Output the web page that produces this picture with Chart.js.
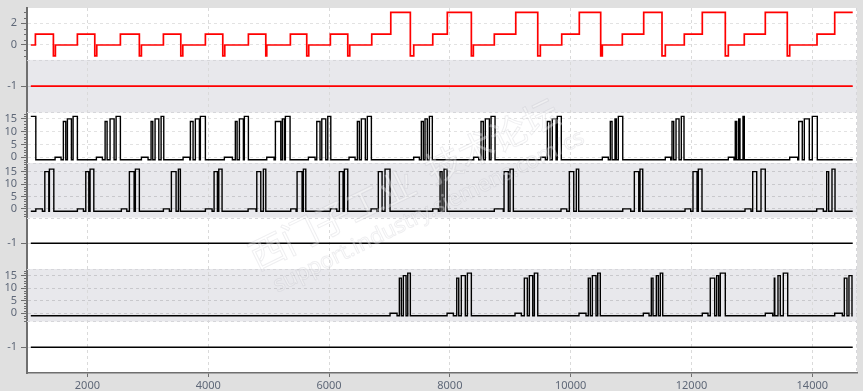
<!DOCTYPE html>
<html><head><meta charset="utf-8">
<script src="https://cdn.jsdelivr.net/npm/chart.js@4/dist/chart.umd.min.js"></script>
<style>html,body{margin:0;padding:0;background:#e0e0e0;overflow:hidden}</style>
</head><body>
<canvas id="c" width="863" height="391" style="width:863px;height:391px;display:block"></canvas>
<script>
// ---------- DATA ----------
const xTicks = [2000, 4000, 6000, 8000, 10000, 12000, 14000];
const ticksLevel = [0, 2];
const ticksCount = [0, 5, 10, 15];
const ticksFlat = [-1];

// [time, value] change points of each trace
const trace1 = [[1063,0],[1139,1],[1437,-1],[1470,0],[1834,1],[2122,-1],[2155,0],[2546,1],[2860,-1],[2894,0],[3258,1],[3546,-1],[3579,0],[3953,1],[4241,-1],[4274,0],[4665,1],[4953,-1],[4969,0],[5360,1],[5631,-1],[5664,0],[6022,1],[6310,-1],[6343,0],[6707,1],[7022,3],[7346,-1],[7402,0],[7717,1],[7958,3],[8356,-1],[8389,0],[8736,1],[9091,3],[9455,-1],[9498,0],[9852,1],[10143,3],[10497,-1],[10524,0],[10855,1],[11209,3],[11512,-1],[11567,0],[11881,1],[12179,3],[12560,-1],[12610,0],[12874,1],[13222,3],[13586,-1],[13626,0],[14078,1],[14371,3],[14669,3]];
const trace2 = [[1063,-1],[14669,-1]];
const trace3 = [[1063,16],[1146,-1],
 [1465,0],[1564,-1],[1602,14],[1642,-1],[1669,15],[1735,-1],[1763,16],[1834,-1],
 [2149,0],[2248,-1],[2293,14],[2326,-1],[2375,15],[2442,-1],[2475,16],[2546,-1],
 [2894,0],[3004,-1],[3054,14],[3082,-1],[3120,15],[3182,-1],[3220,16],[3264,-1],
 [3584,0],[3695,-1],[3705,14],[3749,-1],[3787,15],[3854,-1],[3870,16],[3953,-1],
 [4267,0],[4400,-1],[4449,14],[4478,-1],[4516,15],[4582,-1],[4598,16],[4665,-1],
 [4969,0],[5090,-1],[5112,14],[5201,-1],[5227,15],[5261,-1],[5277,16],[5355,-1],
 [5658,0],[5769,-1],[5797,14],[5851,-1],[5880,15],[5946,-1],[5979,16],[6029,-1],
 [6331,0],[6431,-1],[6469,14],[6502,-1],[6535,15],[6601,-1],[6634,16],[6701,-1],
 [7402,0],[7495,-1],[7528,14],[7561,-1],[7589,15],[7627,-1],[7661,16],[7710,-1],
 [8395,0],[8478,-1],[8516,14],[8554,-1],[8587,15],[8654,-1],[8682,16],[8748,-1],
 [9504,0],[9581,-1],[9614,14],[9658,-1],[9696,15],[9758,-1],[9779,16],[9845,-1],
 [10524,0],[10623,-1],[10656,14],[10685,-1],[10734,15],[10756,-1],[10789,16],[10862,-1],
 [11567,0],[11656,-1],[11678,14],[11706,-1],[11744,15],[11794,-1],[11832,16],[11876,-1],
 [12610,0],[12704,-1],[12725,14],[12749,-1],[12782,15],[12803,-1],[12853,16],[12874,-1],
 [13626,0],[13758,-1],[13775,14],[13834,-1],[13868,15],[13950,-1],[14000,16],[14083,-1],
 [14669,-1]];
const trace4 = [[1063,-1],
 [1146,0],[1255,-1],[1295,15],[1361,-1],[1371,16],[1444,-1],
 [1834,0],[1934,-1],[1973,15],[2023,-1],[2044,16],[2106,-1],
 [2562,0],[2652,-1],[2695,15],[2773,-1],[2794,16],[2860,-1],
 [3258,0],[3357,-1],[3390,15],[3468,-1],[3506,16],[3539,-1],
 [3953,0],[4064,-1],[4097,15],[4152,-1],[4175,16],[4229,-1],
 [4660,0],[4792,-1],[4804,15],[4870,-1],[4913,16],[4953,-1],
 [5366,0],[5454,-1],[5471,15],[5554,-1],[5575,16],[5615,-1],
 [6022,0],[6128,-1],[6171,15],[6232,-1],[6254,16],[6310,-1],
 [6696,0],[6790,-1],[6816,15],[6878,-1],[6927,16],[7010,-1],
 [7717,0],[7810,-1],[7838,15],[7871,-1],[7904,16],[7954,-1],
 [8736,0],[8885,-1],[8897,15],[8968,-1],[8996,16],[9051,-1],
 [9840,0],[9935,-1],[9978,15],[10051,-1],[10094,16],[10133,-1],
 [10862,0],[10994,-1],[11054,15],[11127,-1],[11148,16],[11193,-1],
 [11893,0],[11987,-1],[12025,15],[12092,-1],[12113,16],[12174,-1],
 [12886,0],[12985,-1],[13013,15],[13080,-1],[13151,16],[13222,-1],
 [14073,0],[14182,-1],[14238,15],[14271,-1],[14326,16],[14376,-1],
 [14669,-1]];
const trace5 = [[1063,-1],[14669,-1]];
const trace6 = [[1063,-1],
 [7010,0],[7126,-1],[7164,14],[7197,-1],[7230,15],[7275,-1],[7303,16],[7346,-1],
 [7954,0],[8058,-1],[8114,14],[8147,-1],[8190,15],[8256,-1],[8290,16],[8356,-1],
 [9079,0],[9183,-1],[9233,14],[9283,-1],[9316,15],[9372,-1],[9399,16],[9455,-1],
 [10138,0],[10254,-1],[10292,14],[10325,-1],[10359,15],[10420,-1],[10448,16],[10491,-1],
 [11203,0],[11297,-1],[11335,14],[11363,-1],[11418,15],[11451,-1],[11484,16],[11524,-1],
 [12179,0],[12273,-1],[12311,14],[12384,-1],[12417,15],[12450,-1],[12477,16],[12560,-1],
 [13222,0],[13344,-1],[13371,14],[13379,-1],[13432,15],[13470,-1],[13520,16],[13593,-1],
 [14371,0],[14497,-1],[14530,14],[14574,-1],[14607,15],[14657,-1],
 [14669,-1]];
const trace7 = [[1063,-1],[14669,-1]];

// ---------- STYLE / LAYOUT ----------
const WHITE = '#ffffff', GRAY = '#e8e8ec';
const panels = [
  {id:'y1', data:trace1, color:'#ff0000', lw:1.7, ticks:ticksLevel, min:-1.38, max:3.41, weight:52.0, bg:WHITE, grid:'#e2e2e2', minor:0.5},
  {id:'y2', data:trace2, color:'#ff0000', lw:1.7, ticks:ticksFlat,  min:-2,    max:0,    weight:52.5, bg:GRAY,  grid:'#c8c8cc', minor:0},
  {id:'y3', data:trace3, color:'#000000', lw:1.4, ticks:ticksCount, min:-2.35, max:17.55,weight:50.8, bg:WHITE, grid:'#e2e2e2', minor:1},
  {id:'y4', data:trace4, color:'#000000', lw:1.4, ticks:ticksCount, min:-3.5,  max:18.4, weight:54.4, bg:GRAY,  grid:'#c8c8cc', minor:1},
  {id:'y5', data:trace5, color:'#000000', lw:1.4, ticks:ticksFlat,  min:-2,    max:0,    weight:51.6, bg:WHITE, grid:'#e2e2e2', minor:0},
  {id:'y6', data:trace6, color:'#000000', lw:1.4, ticks:ticksCount, min:-3.26, max:17.6, weight:52.4, bg:GRAY,  grid:'#c8c8cc', minor:1},
  {id:'y7', data:trace7, color:'#000000', lw:1.4, ticks:ticksFlat,  min:-2,    max:0,    weight:51.6, bg:WHITE, grid:'#e2e2e2', minor:0}
];
const AXIS = '#6f6f6f';
const LABEL = '#5f6878';
const FONT = {family:'"Noto Sans", "Open Sans", sans-serif', size:11};

const scales = {
  x: {
    type:'linear', min:1000, max:14740,
    afterBuildTicks: s => { s.ticks = xTicks.map(v => ({value:v})); },
    afterFit: s => { s.height = 18; s.paddingLeft = 0; s.paddingRight = 0; },
    ticks: { color:LABEL, font:FONT, padding:2, maxRotation:0, autoSkip:false, callback: v => String(v) },
    grid: { color:'#dadada', lineWidth:1, tickLength:4, tickColor:AXIS, tickWidth:1 },
    border: { display:true, color:AXIS, width:1.5, dash:[3,3] }
  }
};
// bottom panel first so the stack runs top-to-bottom as panels[]
panels.slice().reverse().forEach(p => {
  scales[p.id] = {
    type:'linear', position:'left', stack:'traces', stackWeight:p.weight,
    min:p.min, max:p.max,
    afterBuildTicks: s => { s.ticks = p.ticks.map(v => ({value:v})); },
    afterFit: s => { s.width = 27; s.paddingTop = 0; s.paddingBottom = 0; },
    ticks: { color:LABEL, font:FONT, padding:4, autoSkip:false, callback: v => String(v) },
    grid: { color:p.grid, lineWidth:1, tickLength:6, tickColor:AXIS, tickWidth:1 },
    border: { display:true, color:AXIS, width:2, dash:[3,3] }
  };
});

const panelPlugin = {
  id:'panels',
  beforeDraw(chart) {
    const {ctx, chartArea:a} = chart;
    ctx.save();
    ctx.fillStyle = '#e0e0e0';
    ctx.fillRect(0, 0, chart.width, chart.height);
    panels.forEach(p => {
      const s = chart.scales[p.id];
      ctx.fillStyle = p.bg;
      ctx.fillRect(a.left, s.top, a.right - a.left, s.bottom - s.top);
    });
    ctx.restore();
  },
  beforeDatasetsDraw(chart) {
    const {ctx, chartArea:a} = chart;
    ctx.save();
    ctx.setLineDash([3,3]);
    ctx.lineWidth = 1;
    ctx.strokeStyle = '#d6d6da';
    panels.forEach((p, i) => {
      if (i === 0) return;
      const y = Math.round(chart.scales[p.id].top) + 0.5;
      ctx.beginPath(); ctx.moveTo(a.left, y); ctx.lineTo(a.right, y); ctx.stroke();
    });
    ctx.beginPath(); ctx.moveTo(a.right - 0.5, a.top); ctx.lineTo(a.right - 0.5, a.bottom); ctx.stroke();
    ctx.restore();
  },
  afterDraw(chart) {
    const {ctx} = chart;
    ctx.save();
    ctx.strokeStyle = AXIS; ctx.lineWidth = 1;
    panels.forEach(p => {
      if (!p.minor) return;
      const s = chart.scales[p.id];
      for (let v = Math.ceil(p.min / p.minor) * p.minor; v <= p.max + 1e-9; v += p.minor) {
        if (p.ticks.some(t => Math.abs(t - v) < 1e-6)) continue;
        const y = Math.round(s.getPixelForValue(v)) + 0.5;
        ctx.beginPath(); ctx.moveTo(s.right - 3, y); ctx.lineTo(s.right, y); ctx.stroke();
      }
    });
    // faint watermark
    ctx.translate(412, 200);
    ctx.rotate(-26 * Math.PI / 180);
    ctx.textAlign = 'center'; ctx.textBaseline = 'middle';
    ctx.lineWidth = 1;
    ctx.font = '36px "Noto Sans CJK SC"';
    ctx.fillStyle = 'rgba(255,255,255,0.35)';
    ctx.strokeStyle = 'rgba(150,150,160,0.16)';
    ctx.fillText('西门子工业  技术论坛', 0, -18);
    ctx.strokeText('西门子工业  技术论坛', 0, -18);
    ctx.font = '22px "Noto Sans"';
    ctx.fillText('support.industry.siemens.com/cs', 10, 18);
    ctx.strokeText('support.industry.siemens.com/cs', 10, 18);
    ctx.restore();
  }
};

new Chart(document.getElementById('c'), {
  type:'line',
  data: {
    datasets: panels.map(p => ({
      data: p.data.map(([x, y]) => ({x, y})),
      yAxisID: p.id, xAxisID:'x',
      borderColor: p.color, borderWidth: p.lw,
      stepped:'before', pointRadius:0, fill:false,
      borderJoinStyle:'miter', borderCapStyle:'butt', tension:0
    }))
  },
  options: {
    responsive:false, animation:false, devicePixelRatio:1,
    layout: { padding: { top:8, right:6, left:0, bottom:0 } },
    plugins: { legend:{display:false}, tooltip:{enabled:false} },
    scales
  },
  plugins:[panelPlugin]
});
</script>
</body></html>
